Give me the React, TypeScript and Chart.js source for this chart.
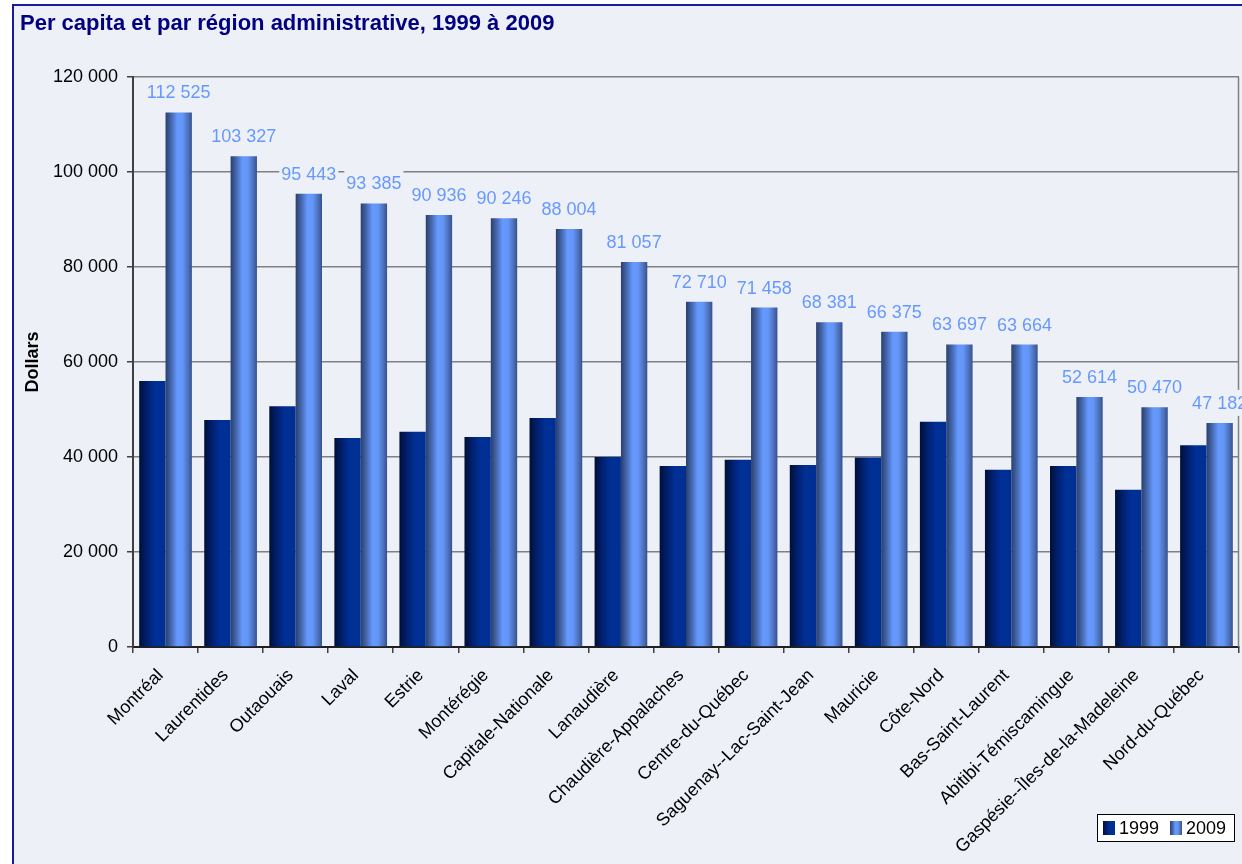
import React, { useEffect, useRef } from "react";
import { Chart, registerables } from "chart.js";

Chart.register(...registerables);

const TITLE = "Per capita et par région administrative, 1999 à 2009";
const Y_TITLE = "Dollars";
const REGIONS = [
  "Montréal",
  "Laurentides",
  "Outaouais",
  "Laval",
  "Estrie",
  "Montérégie",
  "Capitale-Nationale",
  "Lanaudière",
  "Chaudière-Appalaches",
  "Centre-du-Québec",
  "Saguenay--Lac-Saint-Jean",
  "Mauricie",
  "Côte-Nord",
  "Bas-Saint-Laurent",
  "Abitibi-Témiscamingue",
  "Gaspésie--Îles-de-la-Madeleine",
  "Nord-du-Québec",
];
const SERIES_LABELS = ["1999", "2009"];
const VALUES_1999 = [
  56000, 47800, 50700, 44000, 45300, 44200, 48200, 40000, 38100, 39400, 38300,
  39900, 47400, 37300, 38100, 33100, 42500,
];
const VALUES_2009 = [
  112525, 103327, 95443, 93385, 90936, 90246, 88004, 81057, 72710, 71458, 68381,
  66375, 63697, 63664, 52614, 50470, 47182,
];
const Y_MIN = 0;
const Y_MAX = 120000;
const Y_STEP = 20000;

const FONT = "'Liberation Sans', Arial, sans-serif";
const BG = "#EEF0F8";
const NAVY = "#000080";
const LABEL_BLUE = "#6699FF";
const CAT_PCT = 0.81;

const fmt = (n: number) =>
  Math.round(n)
    .toString()
    .replace(/\B(?=(\d{3})+(?!\d))/g, " ");

function gradFor(ctx: CanvasRenderingContext2D, x0: number, x1: number, series: number) {
  const g = ctx.createLinearGradient(x0, 0, x1, 0);
  if (series === 0) {
    g.addColorStop(0, "#000F36");
    g.addColorStop(0.3, "#002070");
    g.addColorStop(0.6, "#003096");
    g.addColorStop(1, "#002F92");
  } else {
    g.addColorStop(0, "#2A3F6C");
    g.addColorStop(0.2, "#4264A8");
    g.addColorStop(0.45, "#6699FF");
    g.addColorStop(0.65, "#6496F8");
    g.addColorStop(0.88, "#4A6CB4");
    g.addColorStop(1, "#34518C");
  }
  return g;
}

function barBg(series: number) {
  return (c: any) => {
    const chart = c.chart;
    const xs = chart.scales?.x;
    const fallback = series === 0 ? "#002F92" : LABEL_BLUE;
    if (!xs || typeof c.dataIndex !== "number") return fallback;
    const center = xs.getPixelForValue(c.dataIndex);
    const catW = xs.width / REGIONS.length;
    const w = (catW * CAT_PCT) / 2;
    const x0 = series === 0 ? center - w : center;
    if (!isFinite(x0) || !isFinite(w) || w <= 0) return fallback;
    return gradFor(chart.ctx, x0, x0 + w, series);
  };
}

const framePlugin = {
  id: "frame",
  beforeDraw(chart: any) {
    const { ctx, width, height } = chart;
    ctx.save();
    ctx.fillStyle = "#FFFFFF";
    ctx.fillRect(0, 0, width, height);
    ctx.fillStyle = BG;
    ctx.fillRect(14, 6, width - 14, height - 6);
    ctx.fillStyle = "#1A1A9A";
    ctx.fillRect(12, 4, 2, height - 4);
    ctx.fillRect(12, 4, width - 12, 2);
    ctx.fillStyle = NAVY;
    ctx.font = `bold 22px ${FONT}`;
    ctx.textBaseline = "alphabetic";
    ctx.textAlign = "left";
    ctx.fillText(TITLE, 20, 30);
    ctx.save();
    ctx.translate(33, (chart.chartArea.top + chart.chartArea.bottom) / 2);
    ctx.rotate(-Math.PI / 2);
    ctx.fillStyle = "#000000";
    ctx.font = `bold 18px ${FONT}`;
    ctx.textAlign = "center";
    ctx.textBaseline = "middle";
    ctx.fillText(Y_TITLE, 0, 0);
    ctx.restore();
    ctx.restore();
  },
  beforeDatasetsDraw(chart: any) {
    const { ctx, chartArea } = chart;
    ctx.save();
    ctx.strokeStyle = "#808080";
    ctx.lineWidth = 1.5;
    ctx.beginPath();
    ctx.moveTo(chartArea.right - 0.5, chartArea.top);
    ctx.lineTo(chartArea.right - 0.5, chartArea.bottom);
    ctx.stroke();
    ctx.restore();
  },
  afterDatasetsDraw(chart: any) {
    const { ctx } = chart;
    const meta = chart.getDatasetMeta(1);
    ctx.save();
    ctx.font = `18px ${FONT}`;
    ctx.textAlign = "center";
    ctx.textBaseline = "middle";
    for (let i = meta.data.length - 1; i >= 0; i--) {
      const el = meta.data[i];
      const text = fmt(VALUES_2009[i]);
      const w = ctx.measureText(text).width;
      const cy = el.y - 20;
      ctx.fillStyle = BG;
      ctx.fillRect(el.x - w / 2 - 2, cy - 13, w + 4, 26);
      ctx.fillStyle = LABEL_BLUE;
      ctx.fillText(text, el.x, cy + 1);
    }
    ctx.restore();
  },
  afterDraw(chart: any) {
    const { ctx } = chart;
    ctx.save();
    const bx = 1097, by = 814, bw = 138, bh = 28;
    ctx.fillStyle = "#FFFFFF";
    ctx.fillRect(bx, by, bw, bh);
    ctx.strokeStyle = "#000000";
    ctx.lineWidth = 1;
    ctx.strokeRect(bx + 0.5, by + 0.5, bw - 1, bh - 1);
    ctx.font = `18px ${FONT}`;
    ctx.textBaseline = "middle";
    ctx.textAlign = "left";
    const items = [
      { sx: 1103, tx: 1119 },
      { sx: 1170, tx: 1186 },
    ];
    items.forEach((it, s) => {
      ctx.fillStyle = gradFor(ctx, it.sx, it.sx + 12, s);
      ctx.fillRect(it.sx, by + 7, 12, 14);
      ctx.fillStyle = "#000000";
      ctx.fillText(SERIES_LABELS[s], it.tx, by + bh / 2 + 1);
    });
    ctx.restore();
  },
};

export default function App() {
  const ref = useRef<HTMLCanvasElement>(null);
  useEffect(() => {
    document.body.style.margin = "0";
    const canvas = ref.current!;
    const chart = new Chart(canvas, {
      type: "bar",
      data: {
        labels: REGIONS,
        datasets: [
          {
            label: SERIES_LABELS[0],
            data: VALUES_1999,
            backgroundColor: barBg(0),
            borderWidth: 0,
            categoryPercentage: CAT_PCT,
            barPercentage: 1,
          },
          {
            label: SERIES_LABELS[1],
            data: VALUES_2009,
            backgroundColor: barBg(1),
            borderWidth: 0,
            categoryPercentage: CAT_PCT,
            barPercentage: 1,
          },
        ],
      },
      options: {
        responsive: false,
        animation: false,
        layout: { padding: { left: 0, top: 77, right: 3, bottom: 0 } },
        plugins: {
          legend: { display: false },
          title: { display: false },
          tooltip: { enabled: false },
        },
        scales: {
          x: {
            offset: true,
            grid: {
              offset: true,
              drawOnChartArea: false,
              drawTicks: true,
              tickLength: 6,
              color: "#404040",
              lineWidth: 1.5,
            },
            border: { color: "#202020", width: 2 },
            ticks: {
              autoSkip: false,
              maxRotation: 45,
              minRotation: 45,
              color: "#000000",
              padding: 12,
              labelOffset: -5,
              font: { family: FONT, size: 18 },
            },
            afterFit: (s: any) => {
              s.height = 864 - 647;
            },
          },
          y: {
            min: Y_MIN,
            max: Y_MAX,
            grid: {
              color: "#808080",
              lineWidth: 1.5,
              tickLength: 6,
              tickColor: "#404040",
            },
            border: { color: "#404040", width: 2 },
            ticks: {
              stepSize: Y_STEP,
              color: "#000000",
              padding: 9,
              font: { family: FONT, size: 18 },
              callback: (v: any) => fmt(Number(v)),
            },
            afterFit: (s: any) => {
              s.width = 133;
            },
          },
        },
      },
      plugins: [framePlugin],
    });
    return () => chart.destroy();
  }, []);
  return (
    <div style={{ position: "fixed", left: 0, top: 0, width: 1242, height: 864, overflow: "hidden" }}>
      <canvas ref={ref} width={1242} height={864} style={{ display: "block" }} />
    </div>
  );
}
